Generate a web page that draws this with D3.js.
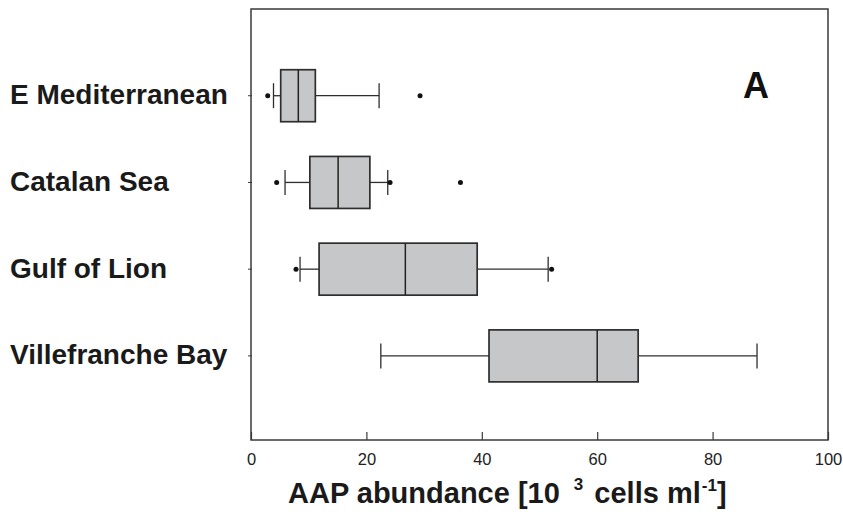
<!DOCTYPE html>
<html>
<head>
<meta charset="utf-8">
<script src="https://cdn.jsdelivr.net/npm/d3@7"></script>
<style>
  body { margin: 0; background: #fff; }
  svg { display: block; font-family: "Liberation Sans", Arial, Helvetica, sans-serif; }
</style>
</head>
<body>
<svg id="chart" width="843" height="517"></svg>
<script>
const categories = ["E Mediterranean", "Catalan Sea", "Gulf of Lion", "Villefranche Bay"];
const whiskerLow  = [3.9, 5.9, 8.5, 22.5];
const q1          = [5.15, 10.2, 11.8, 41.25];
const median      = [8.2, 15.1, 26.75, 60.0];
const q3          = [11.15, 20.6, 39.2, 67.1];
const whiskerHigh = [22.2, 23.7, 51.5, 87.7];
const outliers    = [[2.9, 29.3], [4.45, 24.1, 36.3], [7.8, 52.1], []];
const xTicks = [0, 20, 40, 60, 80, 100];
const panelLabel = "A";

(function () {
const svg = d3.select("#chart");
const mLeft = 251, mRight = 828, mTop = 9, mBottom = 440;
const x = d3.scaleLinear().domain([0, 100]).range([mLeft, mRight]);
const y = d3.scaleLinear().domain([0, 4.97]).range([mTop, mBottom]);

const boxH = 52, capH = 25;
const stroke = "#2e2e2e";

// frame
svg.append("rect").attr("x", mLeft).attr("y", mTop).attr("width", mRight - mLeft).attr("height", mBottom - mTop)
  .attr("fill", "none").attr("stroke", "#3a3a3a").attr("stroke-width", 1.5);

// x axis (ticks inside)
const xAxis = d3.axisBottom(x).tickValues(xTicks).tickSizeInner(-8).tickSizeOuter(0).tickPadding(20);
const gx = svg.append("g").attr("transform", `translate(0,${mBottom})`).call(xAxis);
gx.select(".domain").remove();
gx.selectAll(".tick line").attr("stroke", "#3a3a3a").attr("stroke-width", 1.2);
gx.selectAll(".tick text").attr("font-size", 16.5).attr("fill", "#222").attr("font-family", "Liberation Sans, Arial, sans-serif").attr("dy", "0.3em");

// y ticks (small)
const idx = categories.map((d, i) => i + 1);
svg.append("g").selectAll("line").data(idx).join("line")
  .attr("x1", mLeft - 3).attr("x2", mLeft + 1)
  .attr("y1", d => y(d)).attr("y2", d => y(d))
  .attr("stroke", "#3a3a3a").attr("stroke-width", 1);

// category labels
svg.append("g").selectAll("text").data(categories).join("text")
  .attr("x", 10).attr("y", (d, i) => y(i + 1) + 8.5)
  .attr("font-size", 28).attr("font-weight", "bold").attr("fill", "#1a1a1a")
  .text(d => d);

// boxes
const g = svg.append("g");
categories.forEach((c, i) => {
  const cy = y(i + 1);
  g.append("line").attr("x1", x(whiskerLow[i])).attr("x2", x(q1[i])).attr("y1", cy).attr("y2", cy)
    .attr("stroke", stroke).attr("stroke-width", 1.3);
  g.append("line").attr("x1", x(q3[i])).attr("x2", x(whiskerHigh[i])).attr("y1", cy).attr("y2", cy)
    .attr("stroke", stroke).attr("stroke-width", 1.3);
  [whiskerLow[i], whiskerHigh[i]].forEach(v => {
    g.append("line").attr("x1", x(v)).attr("x2", x(v)).attr("y1", cy - capH / 2).attr("y2", cy + capH / 2)
      .attr("stroke", stroke).attr("stroke-width", 1.3);
  });
  g.append("rect").attr("x", x(q1[i])).attr("y", cy - boxH / 2)
    .attr("width", x(q3[i]) - x(q1[i])).attr("height", boxH)
    .attr("fill", "#c6c7c9").attr("stroke", stroke).attr("stroke-width", 1.7);
  g.append("line").attr("x1", x(median[i])).attr("x2", x(median[i])).attr("y1", cy - boxH / 2).attr("y2", cy + boxH / 2)
    .attr("stroke", "#222").attr("stroke-width", 1.5);
  outliers[i].forEach(v => {
    g.append("circle").attr("cx", x(v)).attr("cy", cy).attr("r", 2.5).attr("fill", "#111");
  });
});

// panel label
svg.append("text").attr("x", 756).attr("y", 98).attr("text-anchor", "middle")
  .attr("font-size", 36).attr("font-weight", "bold").attr("fill", "#111").text(panelLabel);

// axis title
const t = svg.append("text").attr("x", 288).attr("y", 503).attr("text-anchor", "start")
  .attr("font-size", 29).attr("font-weight", "bold").attr("fill", "#1a1a1a");
t.append("tspan").text("AAP abundance [10");
t.append("tspan").attr("font-size", 17).attr("dx", 14).attr("dy", -13).text("3");
t.append("tspan").attr("dx", 3).attr("dy", 13).text(" cells ml");
t.append("tspan").attr("font-size", 17).attr("dx", 1).attr("dy", -12).text("-1");
t.append("tspan").attr("dy", 12).text("]");
})();
</script>
</body>
</html>
